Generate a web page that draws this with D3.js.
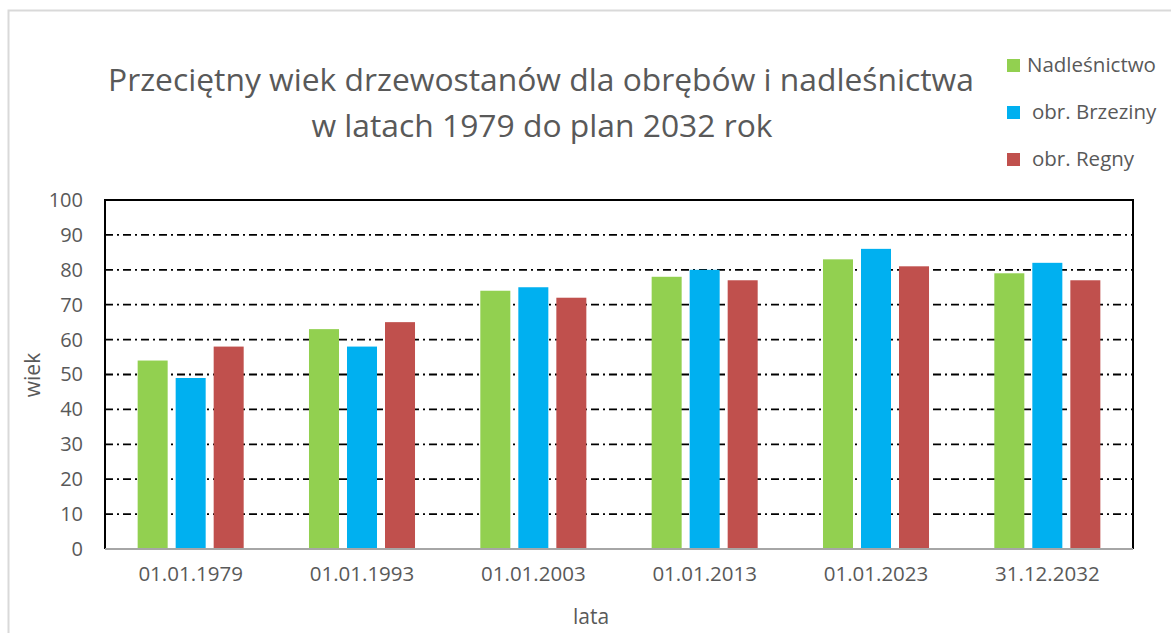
<!DOCTYPE html>
<html>
<head>
<meta charset="utf-8">
<script src="https://cdn.jsdelivr.net/npm/d3@7"></script>
<style>
  body { margin: 0; background: #fff; }
  text { font-family: "Open Sans", sans-serif; fill: #595959; }
</style>
</head>
<body>
<svg id="chart" width="1171" height="633"></svg>
<script>
var categories = ["01.01.1979", "01.01.1993", "01.01.2003", "01.01.2013", "01.01.2023", "31.12.2032"];
var seriesNames = ["Nadleśnictwo", "obr. Brzeziny", "obr. Regny"];
var nadlesnictwo = [54, 63, 74, 78, 83, 79];
var brzeziny = [49, 58, 75, 80, 86, 82];
var regny = [58, 65, 72, 77, 81, 77];
var yTicks = [0, 10, 20, 30, 40, 50, 60, 70, 80, 90, 100];
var colors = ["#92D050", "#00B0F0", "#C0504D"];

var series = [nadlesnictwo, brzeziny, regny];

var plot = { left: 105, right: 1133, top: 200, bottom: 549 };

var svg = d3.select("#chart");

// outer light frame
svg.append("path")
  .attr("d", "M8.5,633 L8.5,10.5 L1171,10.5")
  .attr("fill", "none")
  .attr("stroke", "#d9d9d9")
  .attr("stroke-width", 2);

var x0 = d3.scaleBand().domain(categories).range([plot.left, plot.right]).padding(0);
var x1 = d3.scaleBand().domain(d3.range(series.length))
  .range([0, x0.bandwidth()])
  .paddingInner(8 / 38)
  .paddingOuter(0.859);
var y = d3.scaleLinear().domain([0, 100]).range([plot.bottom, plot.top]);

// gridlines
svg.selectAll(".grid")
  .data(yTicks.filter(function(d) { return d > 0 && d < 100; }))
  .enter().append("line")
  .attr("class", "grid")
  .attr("x1", plot.left).attr("x2", plot.right)
  .attr("y1", function(d) { return y(d); })
  .attr("y2", function(d) { return y(d); })
  .attr("stroke", "#000")
  .attr("stroke-width", 1.8)
  .attr("stroke-dasharray", "8,4,2,4");

// bars
var groups = svg.selectAll(".grp")
  .data(categories)
  .enter().append("g")
  .attr("class", "grp")
  .attr("transform", function(d) { return "translate(" + x0(d) + ",0)"; });

groups.selectAll("rect")
  .data(function(d, i) { return series.map(function(s, j) { return { s: j, v: s[i] }; }); })
  .enter().append("rect")
  .attr("x", function(d) { return x1(d.s); })
  .attr("width", x1.bandwidth())
  .attr("y", function(d) { return y(d.v); })
  .attr("height", function(d) { return y(0) - y(d.v); })
  .attr("fill", function(d) { return colors[d.s]; });

// plot frame: black left/top/right, grey bottom
svg.append("path")
  .attr("d", "M" + plot.left + "," + plot.bottom + " L" + plot.left + "," + plot.top +
    " L" + plot.right + "," + plot.top + " L" + plot.right + "," + plot.bottom)
  .attr("fill", "none")
  .attr("stroke", "#000")
  .attr("stroke-width", 2);
svg.append("line")
  .attr("x1", plot.left).attr("x2", plot.right)
  .attr("y1", plot.bottom).attr("y2", plot.bottom)
  .attr("stroke", "#a6a6a6")
  .attr("stroke-width", 2);

// y tick labels
var yAxis = d3.axisLeft(y).tickValues(yTicks).tickSize(0).tickPadding(22);
var gy = svg.append("g").attr("transform", "translate(" + plot.left + ",0)").call(yAxis);
gy.select(".domain").remove();
gy.selectAll("text").style("font-size", "20px").attr("fill", "#595959");

// x tick labels
var xAxis = d3.axisBottom(x0).tickSize(0).tickPadding(17);
var gx = svg.append("g").attr("transform", "translate(0," + plot.bottom + ")").call(xAxis);
gx.select(".domain").remove();
gx.selectAll("text").style("font-size", "20.5px").attr("fill", "#595959");

// axis titles
svg.append("text")
  .attr("x", 591)
  .attr("y", 624)
  .attr("text-anchor", "middle")
  .style("font-size", "21px")
  .text("lata");

svg.append("text")
  .attr("transform", "translate(40,375) rotate(-90)")
  .attr("text-anchor", "middle")
  .style("font-size", "21px")
  .text("wiek");

// title
svg.append("text")
  .attr("x", 541).attr("y", 91)
  .attr("text-anchor", "middle")
  .style("font-size", "31.8px")
  .text("Przeciętny wiek drzewostanów dla obrębów i nadleśnictwa");
svg.append("text")
  .attr("x", 542).attr("y", 137)
  .attr("text-anchor", "middle")
  .style("font-size", "31.8px")
  .text("w latach 1979 do plan 2032 rok");

// legend
var legend = svg.selectAll(".leg")
  .data(seriesNames)
  .enter().append("g")
  .attr("class", "leg")
  .attr("transform", function(d, i) { return "translate(1007," + (59 + i * 47) + ")"; });
legend.append("rect")
  .attr("width", 13).attr("height", 13)
  .attr("fill", function(d, i) { return colors[i]; });
legend.append("text")
  .attr("x", function(d, i) { return i === 0 ? 20 : 25; })
  .attr("y", 13)
  .style("font-size", "20.5px")
  .text(function(d) { return d; });
</script>
</body>
</html>
